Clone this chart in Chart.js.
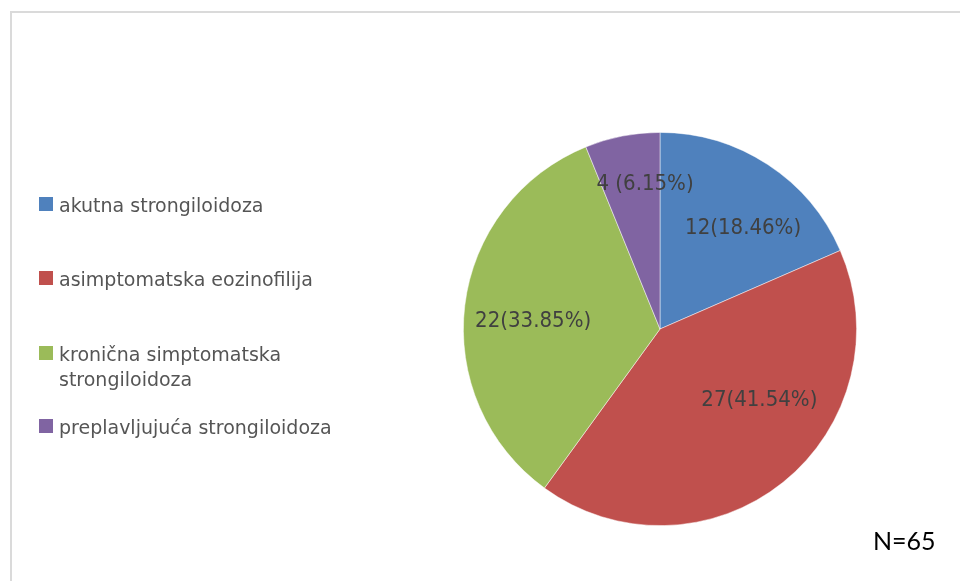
<!DOCTYPE html>
<html>
<head>
<meta charset="utf-8">
<script src="https://cdn.jsdelivr.net/npm/chart.js@4/dist/chart.umd.min.js"></script>
<style>
  html, body { margin: 0; padding: 0; background: #fff; }
  #wrap { position: relative; width: 960px; height: 581px; overflow: hidden; }
  #frame {
    position: absolute; left: 10px; top: 11px; width: 960px; height: 580px;
    border-left: 2px solid #dadada; border-top: 2px solid #dadada;
  }
  canvas { position: absolute; left: 0; top: 0; }
</style>
</head>
<body>
<div id="wrap">
  <div id="frame"></div>
  <canvas id="pie" width="960" height="581"></canvas>
</div>
<script>
  // podaci
  const categories = [
    'akutna strongiloidoza',
    'asimptomatska eozinofilija',
    'kronična simptomatska strongiloidoza',
    'preplavljujuća strongiloidoza'
  ];
  const counts = [12, 27, 22, 4];
  const percents = ['18.46', '41.54', '33.85', '6.15'];
  const totalLabel = 'N=65';

  const colors = ['#4F81BD', '#C0504D', '#9BBB59', '#8064A2'];

  // izgled legende i oznaka
  const LEGEND_FONT = '19px "DejaVu Sans", sans-serif';
  const LABEL_FONT = '22px "DejaVu Sans Condensed", "DejaVu Sans", sans-serif';
  const legendX = 39, legendMaxW = 290;
  const legendBase = [212, 286, 361, 434];
  const labelR = [0.66, 0.62, 0.65, 0.74];
  const labelNudge = [[12, 8], [23, -24], [0, 8], [13, -2]];

  function wrap(ctx, text, maxW) {
    const words = text.split(' ');
    const lines = [];
    let cur = '';
    words.forEach(w => {
      const t = cur ? cur + ' ' + w : w;
      if (ctx.measureText(t).width > maxW && cur) { lines.push(cur); cur = w; }
      else cur = t;
    });
    if (cur) lines.push(cur);
    return lines;
  }

  const decorPlugin = {
    id: 'decor',
    afterDatasetsDraw(chart) {
      const { ctx } = chart;
      const meta = chart.getDatasetMeta(0);
      ctx.save();

      // oznake na kriškama
      ctx.font = LABEL_FONT;
      ctx.fillStyle = '#404040';
      ctx.textAlign = 'center';
      ctx.textBaseline = 'middle';
      meta.data.forEach((arc, i) => {
        const mid = (arc.startAngle + arc.endAngle) / 2;
        const r = arc.outerRadius * labelR[i];
        const x = arc.x + Math.cos(mid) * r + labelNudge[i][0];
        const y = arc.y + Math.sin(mid) * r + labelNudge[i][1];
        const sep = i === 3 ? ' (' : '(';
        ctx.fillText(counts[i] + sep + percents[i] + '%)', x, y);
      });

      // legenda
      ctx.font = LEGEND_FONT;
      ctx.textAlign = 'left';
      ctx.textBaseline = 'alphabetic';
      categories.forEach((c, i) => {
        const b = legendBase[i];
        ctx.fillStyle = colors[i];
        ctx.fillRect(legendX, b - 15, 14, 14);
        ctx.fillStyle = '#555555';
        wrap(ctx, c, legendMaxW).forEach((ln, k) => {
          ctx.fillText(ln, legendX + 20, b + k * 25);
        });
      });

      // N
      ctx.font = '25px Lato, "Open Sans", sans-serif';
      ctx.fillStyle = '#000';
      ctx.fillText(totalLabel, 873, 550);
      ctx.restore();
    }
  };

  new Chart(document.getElementById('pie'), {
    type: 'pie',
    data: {
      labels: categories,
      datasets: [{
        data: counts,
        backgroundColor: colors,
        borderColor: 'rgba(255,255,255,0.6)',
        borderWidth: 0.8
      }]
    },
    options: {
      responsive: false,
      animation: false,
      layout: { padding: { left: 463, right: 103, top: 132, bottom: 55 } },
      plugins: { legend: { display: false }, tooltip: { enabled: false } }
    },
    plugins: [decorPlugin]
  });
</script>
</body>
</html>
